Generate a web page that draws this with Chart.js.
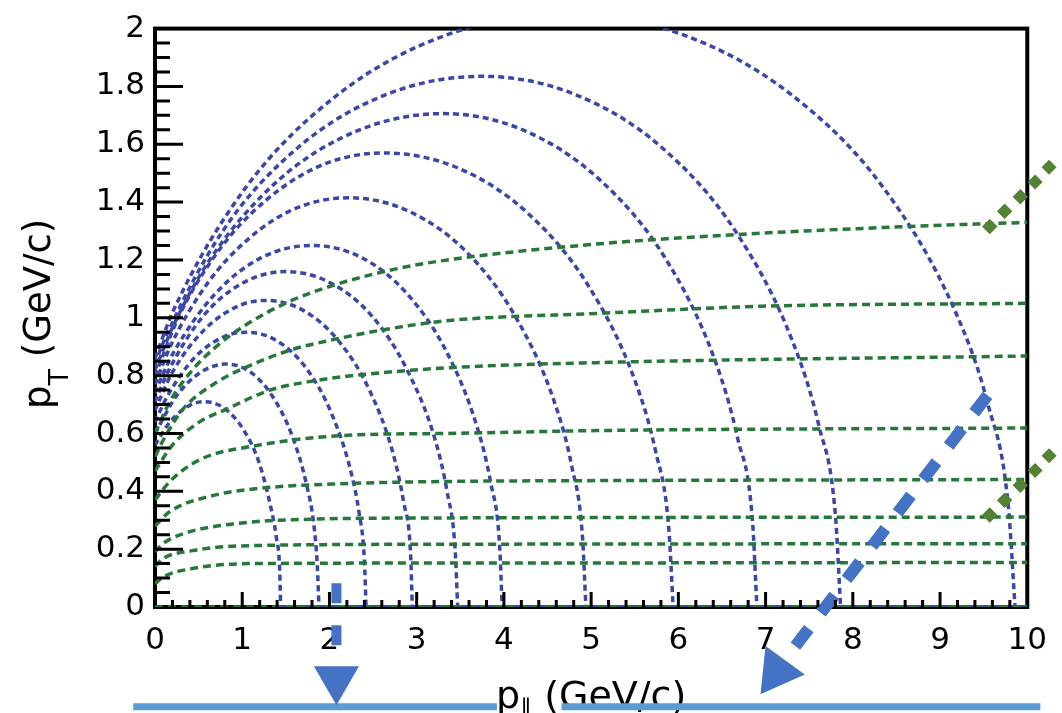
<!DOCTYPE html>
<html>
<head>
<meta charset="utf-8">
<script src="https://cdn.jsdelivr.net/npm/chart.js@4.4.0/dist/chart.umd.min.js"></script>
<style>
  html, body { margin: 0; padding: 0; background: #fff; }
  canvas { display: block; }
</style>
</head>
<body>
<canvas id="myChart" width="1062" height="713"></canvas>
<script>
// axis tick labels
const xTicks = [0, 1, 2, 3, 4, 5, 6, 7, 8, 9, 10];
const yTicks = [0, 0.2, 0.4, 0.6, 0.8, 1, 1.2, 1.4, 1.6, 1.8, 2];

// blue arcs, [pL, pT], named by where they meet pT = 0
const arc986 = [[0,0.86],[0.21,1.025],[1.04,1.45],[2.11,1.775],[3.36,1.98],[4.70,2.05],[6.04,1.98],[7.28,1.775],[8.35,1.45],[9.17,1.025],[9.55,0.70],[9.78,0.357],[9.86,0]];
const arc786 = [[0,0.84],[0.10,0.918],[0.77,1.297],[1.64,1.589],[2.66,1.773],[3.75,1.835],[4.81,1.773],[5.81,1.589],[6.66,1.297],[7.31,0.918],[7.61,0.628],[7.80,0.319],[7.86,0]];
const arc690 = [[0,0.82],[0.22,0.979],[0.64,1.206],[1.42,1.477],[2.33,1.648],[3.30,1.706],[4.23,1.648],[5.10,1.477],[5.85,1.206],[6.42,0.853],[6.68,0.583],[6.85,0.297],[6.90,0]];
const arc594 = [[0,0.80],[0.28,1.009],[0.66,1.203],[1.10,1.360],[1.83,1.517],[2.62,1.57],[3.48,1.517],[4.28,1.360],[4.97,1.110],[5.50,0.785],[5.74,0.537],[5.89,0.273],[5.94,0]];
const arc494 = [[0,0.77],[0.19,0.910],[0.52,1.084],[0.90,1.225],[1.53,1.367],[2.22,1.415],[2.92,1.367],[3.58,1.225],[4.14,1.0],[4.58,0.708],[4.78,0.484],[4.90,0.246],[4.94,0]];
const arc398 = [[0,0.74],[0.09,0.804],[0.22,0.884],[0.69,1.083],[1.22,1.208],[1.80,1.25],[2.37,1.208],[2.89,1.083],[3.34,0.884],[3.69,0.625],[3.85,0.428],[3.95,0.217],[3.98,0]];
const arc347 = [[0,0.71],[0.16,0.820],[0.55,1.005],[1.01,1.121],[1.50,1.16],[2.01,1.121],[2.49,1.005],[2.89,0.820],[3.21,0.58],[3.35,0.397],[3.44,0.202],[3.47,0]];
const arc295 = [[0,0.68],[0.20,0.812],[0.57,0.960],[0.98,1.044],[1.27,1.06],[1.71,1.024],[2.11,0.918],[2.46,0.749],[2.73,0.53],[2.85,0.363],[2.93,0.184],[2.95,0]];
const arc242 = [[0,0.64],[0.14,0.728],[0.45,0.861],[0.80,0.936],[1.05,0.95],[1.41,0.918],[1.74,0.823],[2.02,0.672],[2.24,0.475],[2.34,0.325],[2.40,0.165],[2.42,0]];
const arc188 = [[0,0.60],[0.24,0.727],[0.52,0.811],[0.82,0.84],[1.10,0.811],[1.35,0.727],[1.57,0.594],[1.74,0.42],[1.82,0.287],[1.86,0.146],[1.88,0]];
const arc144 = [[0,0.56],[0.18,0.643],[0.41,0.699],[0.57,0.71],[0.80,0.686],[1.01,0.615],[1.19,0.502],[1.32,0.355],[1.39,0.243],[1.43,0.123],[1.44,0]];
const arcBase = [[1.44,0],[10,0]];

// green curves, named by their pT at pL = 10
const flat133 = [[0,0.60],[0.17,0.71],[0.43,0.82],[0.70,0.90],[1.04,0.975],[1.53,1.055],[2.07,1.115],[2.78,1.17],[3.35,1.20],[5.06,1.255],[6.5,1.285],[8.66,1.316],[10,1.33]];
const flat105 = [[0,0.52],[0.1,0.58],[0.32,0.684],[0.70,0.776],[1.08,0.834],[1.57,0.89],[2.02,0.923],[2.59,0.957],[3.35,0.99],[5.06,1.015],[6.95,1.04],[10,1.05]];
const flat087 = [[0,0.47],[0.2,0.56],[0.51,0.64],[0.82,0.684],[1.31,0.749],[1.84,0.783],[2.36,0.803],[3.35,0.827],[5.06,0.845],[10,0.868]];
const flat062 = [[0,0.37],[0.17,0.434],[0.51,0.509],[1.08,0.554],[2.22,0.594],[3.35,0.60],[5.06,0.61],[10,0.619]];
const flat044 = [[0,0.28],[0.17,0.33],[0.63,0.383],[1.19,0.41],[2.22,0.427],[3.35,0.434],[5.06,0.437],[10,0.441]];
const flat031 = [[0,0.19],[0.09,0.219],[0.32,0.253],[0.89,0.287],[1.84,0.304],[3.35,0.308],[10,0.311]];
const flat022 = [[0,0.14],[0.09,0.167],[0.43,0.195],[1.08,0.212],[3.35,0.217],[10,0.219]];
const flat015 = [[0,0.08],[0.09,0.103],[0.43,0.133],[1.08,0.15],[3.35,0.152],[10,0.154]];
const flat000 = [[0,0],[10,0]];

// annotations drawn over the plot
const diamondsX = [9.57, 9.74, 9.92, 10.09, 10.25];
const diamondsHighY = [1.316, 1.368, 1.419, 1.470, 1.521];
const diamondsLowY = [0.318, 0.369, 0.421, 0.472, 0.523];
const slantArrow = [[9.545,0.732],[7.33,-0.140]];
const slantHead = [[7.13,-0.223]];
const dropArrow = [[2.08,0.082],[2.08,-0.133]];
const dropHead = [[2.08,-0.25]];
const underline = [[-0.25,-0.345],[3.92,-0.345],[4.3,null],[4.66,-0.345],[10.15,-0.345]];

const toXY = pts => pts.map(([x, y]) => ({ x, y }));

const BLUE = '#3b47a7';
const GREEN = '#25783a';

function curve(pts, color, dash) {
  return {
    data: toXY(pts),
    showLine: true,
    borderColor: color,
    borderWidth: 3.5,
    borderDash: dash,
    pointRadius: 0,
    cubicInterpolationMode: 'monotone',
    order: 2
  };
}

const arcs = [arc986, arc786, arc690, arc594, arc494, arc398, arc347, arc295, arc242, arc188, arc144];
const flats = [flat133, flat105, flat087, flat062, flat044, flat031, flat022, flat015, flat000];

const datasets = [];
flats.forEach(p => datasets.push(curve(p, GREEN, [8, 5])));
arcs.forEach(p => datasets.push(curve(p, BLUE, [6, 4])));
datasets.push({
  data: toXY(arcBase), showLine: true, borderColor: BLUE, borderWidth: 4, pointRadius: 0, order: 2
});

// overlay marks (points flagged "overlay" are also drawn outside the plot frame)
datasets.push({
  data: diamondsX.map((x, i) => ({ x, y: diamondsHighY[i] })), overlay: true,
  showLine: false, pointStyle: 'rectRot', pointRadius: 7.5, backgroundColor: '#548235', borderWidth: 0, clip: false, order: 0
});
datasets.push({
  data: diamondsX.map((x, i) => ({ x, y: diamondsLowY[i] })), overlay: true,
  showLine: false, pointStyle: 'rectRot', pointRadius: 7.5, backgroundColor: '#548235', borderWidth: 0, clip: false, order: 0
});
datasets.push({
  data: toXY(slantArrow), showLine: true, borderColor: '#4472C4', borderWidth: 12, borderDash: [22, 20],
  borderCapStyle: 'butt', pointRadius: 0, clip: false, order: 0
});
datasets.push({
  data: toXY(slantHead), overlay: true, showLine: false, pointStyle: 'triangle', pointRadius: 28, rotation: 216,
  backgroundColor: '#4472C4', borderWidth: 0, clip: false, order: 0
});
datasets.push({
  data: toXY(dropArrow), showLine: true, borderColor: '#4472C4', borderWidth: 10, borderDash: [20, 22],
  borderCapStyle: 'butt', pointRadius: 0, clip: false, order: 0
});
datasets.push({
  data: toXY(dropHead), overlay: true, showLine: false, pointStyle: 'triangle', pointRadius: 26, rotation: 180,
  backgroundColor: '#4472C4', borderWidth: 0, clip: false, order: 0
});
datasets.push({
  data: toXY(underline), showLine: true, spanGaps: false, borderColor: '#5B9BD5', borderWidth: 7,
  pointRadius: 0, clip: false, order: 0
});

// axis titles with subscripts
function drawTitles(chart) {
  const { ctx, chartArea: a } = chart;
  const big = '38px "DejaVu Sans"';
  ctx.save();
  ctx.fillStyle = '#000';
  ctx.textBaseline = 'alphabetic';
  ctx.textAlign = 'left';

  // x title: p∥ (GeV/c)
  ctx.font = big;
  const wp = ctx.measureText('p').width;
  const wr = ctx.measureText(' (GeV/c)').width;
  ctx.font = '24px "DejaVu Sans"';
  const ws = ctx.measureText('\u2225').width;
  let x0 = (a.left + a.right) / 2 - (wp + ws + wr) / 2;
  const base = a.bottom + 101;
  ctx.font = big;
  ctx.fillText('p', x0, base);
  ctx.font = '24px "DejaVu Sans"';
  ctx.fillText('\u2225', x0 + wp, base + 8);
  ctx.font = big;
  ctx.fillText(' (GeV/c)', x0 + wp + ws, base);

  // y title: pT (GeV/c), rotated
  ctx.translate(50, (a.top + a.bottom) / 2 - 4);
  ctx.rotate(-Math.PI / 2);
  ctx.font = '37px "DejaVu Sans"';
  const yp = ctx.measureText('p').width;
  const yr = ctx.measureText(' (GeV/c)').width;
  ctx.font = '27px "DejaVu Sans"';
  const ys = ctx.measureText('T').width;
  const y0 = -(yp + ys + yr) / 2;
  ctx.font = '37px "DejaVu Sans"';
  ctx.fillText('p', y0, 0);
  ctx.font = '27px "DejaVu Sans"';
  ctx.fillText('T', y0 + yp, 18);
  ctx.font = '37px "DejaVu Sans"';
  ctx.fillText(' (GeV/c)', y0 + yp + ys, 0);
  ctx.restore();
}

// ROOT-style frame with inward ticks
const frameAndTicks = {
  id: 'frameAndTicks',
  beforeDatasetsDraw(chart) {
    const { ctx, chartArea: a } = chart;
    ctx.save();
    ctx.strokeStyle = '#000';
    ctx.lineWidth = 4;
    ctx.strokeRect(a.left, a.top, a.right - a.left, a.bottom - a.top);
    ctx.restore();
    drawTitles(chart);
  },
  afterDatasetsDraw(chart) {
    const { ctx, chartArea: a, scales: { x, y } } = chart;
    ctx.save();
    ctx.strokeStyle = '#000';
    ctx.lineWidth = 3;
    ctx.beginPath();
    for (let i = 1; i < 50; i++) {
      const px = x.getPixelForValue(i * 0.2);
      const len = i % 5 === 0 ? 15 : 7;
      ctx.moveTo(px, a.bottom);
      ctx.lineTo(px, a.bottom - len);
    }
    for (let i = 1; i < 40; i++) {
      const py = y.getPixelForValue(i * 0.05);
      const len = i % 4 === 0 ? 28 : 15;
      ctx.moveTo(a.left, py);
      ctx.lineTo(a.left + len, py);
    }
    ctx.stroke();
    ctx.restore();

    // the library skips points outside the chart area, so redraw the overlay ones
    const whole = { left: 0, top: 0, right: chart.width, bottom: chart.height };
    chart.data.datasets.forEach((ds, i) => {
      if (!ds.overlay) return;
      chart.getDatasetMeta(i).data.forEach(pt => pt.draw(ctx, whole));
    });
  }
};

const tickFont = { family: 'DejaVu Sans', size: 31 };

const config = {
  type: 'scatter',
  data: { datasets: datasets },
  options: {
    responsive: false,
    animation: false,
    devicePixelRatio: 1,
    layout: { padding: { top: 22, right: 27, left: 0, bottom: 0 } },
    plugins: {
      legend: { display: false },
      tooltip: { enabled: false }
    },
    scales: {
      x: {
        type: 'linear',
        min: 0,
        max: 10,
        afterBuildTicks: s => { s.ticks = xTicks.map(v => ({ value: v })); },
        afterFit: s => { s.height = 106; },
        grid: { display: false, drawTicks: false },
        border: { display: false },
        ticks: { font: tickFont, color: '#000', padding: 15, maxRotation: 0, autoSkip: false,
          callback: v => String(v) }
      },
      y: {
        type: 'linear',
        min: 0,
        max: 2,
        afterBuildTicks: s => { s.ticks = yTicks.map(v => ({ value: v })); },
        afterFit: s => { s.width = 155; },
        grid: { display: false, drawTicks: false },
        border: { display: false },
        ticks: { font: tickFont, color: '#000', padding: 10, autoSkip: false,
          callback: v => String(v) }
      }
    }
  },
  plugins: [frameAndTicks]
};

const myChart = new Chart(document.getElementById('myChart'), config);
</script>
</body>
</html>
